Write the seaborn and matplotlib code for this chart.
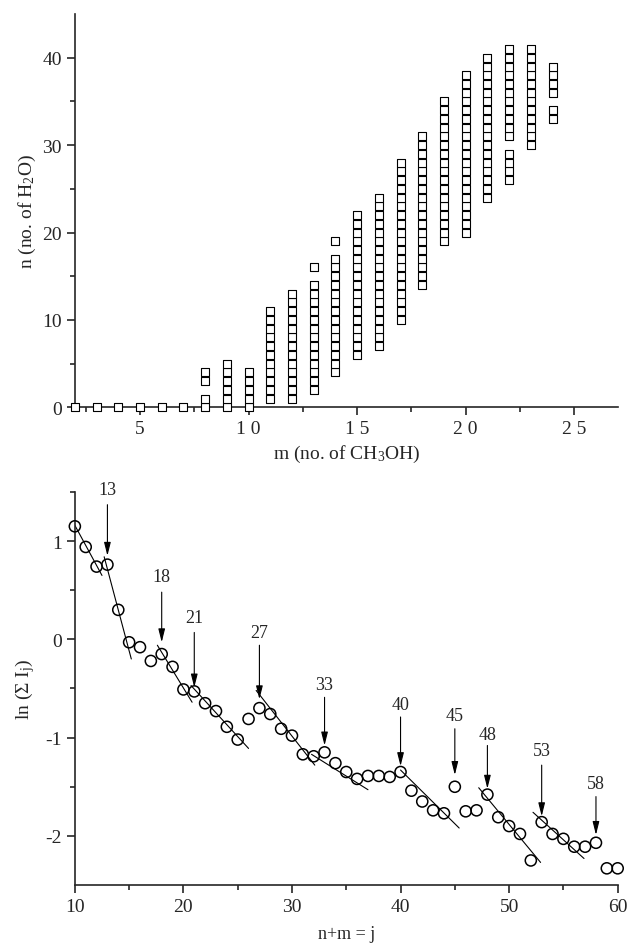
import numpy as np
import pandas as pd
import seaborn as sns
import matplotlib.pyplot as plt

# top panel: observed (m, n) clusters, given as column ranges with a few gaps
m_vals = list(range(2, 25))
n_low = [0, 0, 0, 0, 0, 0, 0, 0, 0, 1, 1, 2, 4, 6, 7, 10, 14, 19, 20, 24, 26, 30, 33]
n_high = [0, 0, 0, 0, 0, 0, 4, 5, 4, 11, 13, 16, 19, 22, 24, 28, 31, 35, 38, 40, 41, 41, 39]
n_gaps = {8: [2], 13: [15], 14: [18], 22: [30], 24: [35]}

top_xticks = [5, 10, 15, 20, 25]
top_xticklabels = ['5', '1 0', '1 5', '2 0', '2 5']
top_yticks = [0, 10, 20, 30, 40]

# bottom panel: ln(sum I_j) against j = n + m
j_vals = list(range(10, 61))
ln_I = [1.15, 0.94, 0.74, 0.76, 0.30, -0.03, -0.08, -0.22, -0.15, -0.28,
        -0.51, -0.53, -0.65, -0.73, -0.89, -1.02, -0.81, -0.70, -0.76, -0.91,
        -0.98, -1.17, -1.19, -1.15, -1.26, -1.35, -1.42, -1.39, -1.39, -1.40,
        -1.35, -1.54, -1.65, -1.74, -1.77, -1.50, -1.75, -1.74, -1.58, -1.81,
        -1.90, -1.98, -2.25, -1.86, -1.98, -2.03, -2.11, -2.11, -2.07, -2.33,
        -2.33]

# straight fit segments
fit_x0 = [10.0, 12.7, 17.6, 20.7, 26.7, 31.8, 40.0, 47.2, 52.2]
fit_y0 = [1.16, 0.84, -0.06, -0.47, -0.52, -1.17, -1.33, -1.51, -1.76]
fit_x1 = [12.5, 15.2, 20.8, 26.0, 32.1, 37.0, 45.4, 52.9, 56.9]
fit_y1 = [0.65, -0.20, -0.64, -1.11, -1.28, -1.53, -1.92, -2.27, -2.23]

# arrows marking magic numbers
ann_j = [13, 18, 21, 27, 33, 40, 45, 48, 53, 58]
ann_head = [0.85, -0.03, -0.49, -0.61, -1.08, -1.29, -1.38, -1.52, -1.80, -1.99]
ann_tail = [1.37, 0.48, 0.07, -0.06, -0.59, -0.79, -0.91, -1.08, -1.28, -1.60]
ann_text_y = [1.52, 0.64, 0.22, 0.07, -0.46, -0.66, -0.77, -0.97, -1.13, -1.47]

sns.set_style("ticks")
plt.rcParams['font.family'] = ['Liberation Serif', 'DejaVu Serif']
plt.rcParams['mathtext.fontset'] = 'custom'
plt.rcParams['mathtext.rm'] = 'Liberation Serif'
plt.rcParams['mathtext.it'] = 'Liberation Serif:italic'
plt.rcParams['axes.unicode_minus'] = False

rows = []
for m, lo, hi in zip(m_vals, n_low, n_high):
    for n in range(lo, hi + 1):
        if n not in n_gaps.get(m, []):
            rows.append((m, n))
clusters = pd.DataFrame(rows, columns=['m', 'n'])

fig = plt.figure(figsize=(6.29, 9.45), dpi=100)
ax1 = fig.add_axes([0.119, 0.568, 0.863, 0.416])
ax2 = fig.add_axes([0.119, 0.0624, 0.863, 0.416])

fs = 14

#Top
sns.scatterplot(data=clusters, x='m', y='n', marker='s', s=32, facecolor='white',
                edgecolor='black', linewidth=0.8, clip_on=False, zorder=3, ax=ax1)
ax1.set_xlim(2, 27)
ax1.set_ylim(0, 45)
ax1.set_xticks(top_xticks)
ax1.set_xticklabels(top_xticklabels)
ax1.set_xticks(np.arange(2.5, 27, 2.5), minor=True)
ax1.set_yticks(top_yticks)
ax1.set_yticks([5, 15, 25, 35], minor=True)
ax1.set_xlabel('m (no. of CH$_3$OH)', fontsize=fs, labelpad=4)
ax1.set_ylabel('n (no. of H$_2$O)', fontsize=fs, labelpad=3)

#Bottom
ints = pd.DataFrame({'j': j_vals, 'lnI': ln_I})
fits = pd.DataFrame({'x': fit_x0 + fit_x1, 'y': fit_y0 + fit_y1,
                     'seg': list(range(len(fit_x0))) * 2})
sns.lineplot(data=fits, x='x', y='y', units='seg', estimator=None, color='black',
             linewidth=0.8, ax=ax2, legend=False)
sns.scatterplot(data=ints, x='j', y='lnI', marker='o', s=64, facecolor='none',
                edgecolor='black', linewidth=1.1, clip_on=False, zorder=3, ax=ax2)
for j, h, t, ty in zip(ann_j, ann_head, ann_tail, ann_text_y):
    ax2.annotate('', xy=(j, h), xytext=(j, t),
                 arrowprops=dict(arrowstyle='-|>,head_length=0.8,head_width=0.2',
                                 color='black', lw=0.8, shrinkA=0, shrinkB=0))
    ax2.text(j, ty, str(j), ha='center', va='center', fontsize=13)
ax2.set_xlim(10, 60)
ax2.set_ylim(-2.5, 1.5)
ax2.set_xticks([10, 20, 30, 40, 50, 60])
ax2.set_xticks([15, 25, 35, 45, 55], minor=True)
ax2.set_yticks([-2, -1, 0, 1])
ax2.set_yticks([-1.5, -0.5, 0.5, 1.5], minor=True)
ax2.set_xlabel('n+m = j', fontsize=13, labelpad=7)
ax2.set_ylabel('ln (Σ I$_\\mathrm{j}$)', fontsize=fs, labelpad=6)

for ax in (ax1, ax2):
    sns.despine(ax=ax)
    for sp in ax.spines.values():
        sp.set_linewidth(1.2)
    ax.tick_params(which='major', direction='out', length=6, width=1.2, labelsize=fs)
    ax.tick_params(which='minor', direction='out', length=3.5, width=1.2)

plt.savefig('out.png', dpi=100)
